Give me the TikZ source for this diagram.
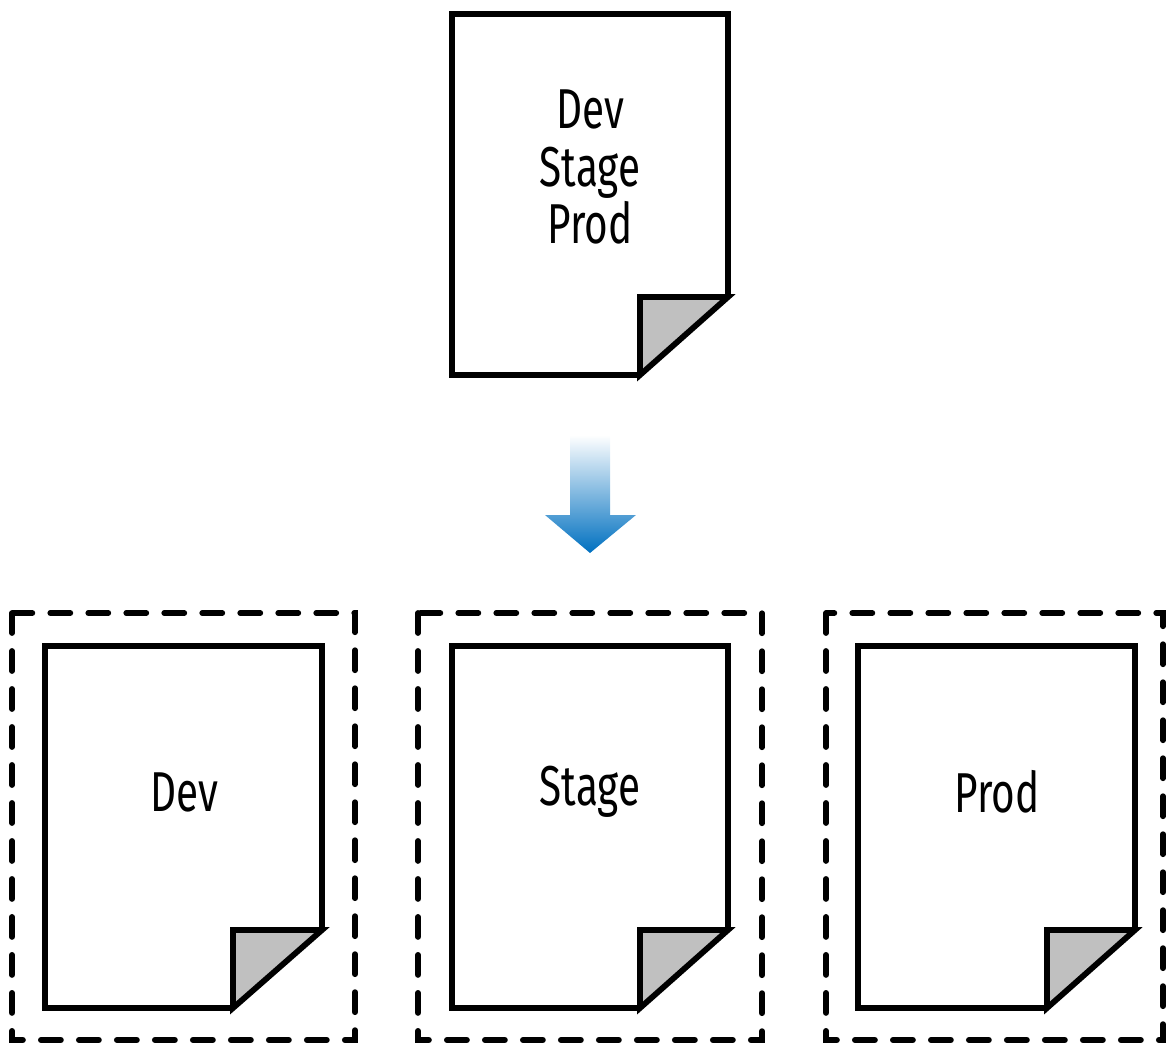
\documentclass[tikz,border=0pt]{standalone}
\usepackage{fontspec}
\setmainfont[FakeStretch=0.72]{Fira Sans}
\usetikzlibrary{positioning}
\definecolor{arrowblue}{RGB}{0,112,192}
\definecolor{foldgray}{RGB}{192,192,192}
\tikzset{
  page line/.style={line width=3.3pt,line join=miter},
  fold/.style={page line,fill=foldgray},
  env box/.style={line width=3.3pt,line cap=round,dash pattern=on 0.40cm off 0.36cm},
  page text/.style={align=center,font=\fontsize{32}{32.5}\selectfont}
}
% page outline: #1 left, #2 top, #3 right, #4 bottom, #5 fold corner x, #6 fold corner y
\newcommand{\paperpage}[6]{%
  \draw[page line] (#5,#4) -- (#1,#4) -- (#1,#2) -- (#3,#2) -- (#3,#6);
  \draw[fold] (#5,#4) -- (#5,#6) -- (#3,#6) -- cycle;}

\begin{document}
\begin{tikzpicture}[x=0.02cm,y=-0.02cm]
  \useasboundingbox (0,0) rectangle (1166,1043);
  % single config file
  \paperpage{452}{14}{728}{375}{640}{297}
  \node[page text] (allenv) at (590,167) {Dev\\Stage\\Prod};
  % split arrow
  \shade[top color=white,bottom color=arrowblue,shading angle=0]
    (570,435) -- (610,435) -- (610,515) -- (636,515) -- (590,553)
    -- (545,515) -- (570,515) -- cycle;
  % one config per environment
  \draw[env box] (12,613) rectangle (355,1040);
  \draw[env box] (418,613) rectangle (762,1040);
  \draw[env box] (826,613) rectangle (1163,1040);
  \paperpage{45}{646}{322}{1008}{233}{930}
  \paperpage{452}{646}{728}{1008}{640}{930}
  \paperpage{858}{646}{1135}{1008}{1047}{930}
  \node[page text] (dev) at (184,792) {Dev};
  \node[page text] (stage) at (590,792) {Stage};
  \node[page text] (prod) at (997,792) {Prod};
\end{tikzpicture}
\end{document}
